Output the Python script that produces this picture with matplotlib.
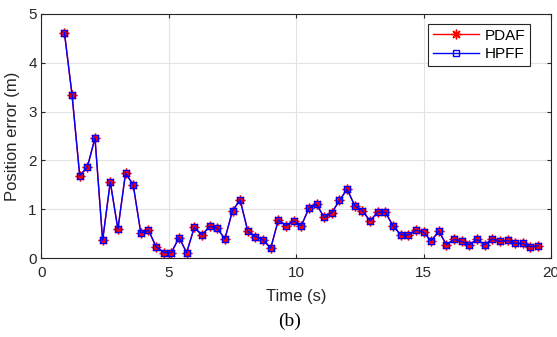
import numpy as np
import matplotlib.pyplot as plt

plt.rcParams['font.family'] = ['Liberation Sans', 'DejaVu Sans']

# sample clock of the tracker (s)
t_start = 0.9
t_step = 0.3

pdaf_err = [4.62, 3.34, 1.69, 1.86, 2.46, 0.36, 1.56, 0.59, 1.74, 1.50,
            0.51, 0.57, 0.23, 0.11, 0.11, 0.42, 0.11, 0.63, 0.47, 0.65,
            0.61, 0.39, 0.97, 1.19, 0.55, 0.44, 0.37, 0.20, 0.78, 0.66,
            0.76, 0.66, 1.02, 1.10, 0.83, 0.93, 1.18, 1.41, 1.07, 0.97,
            0.76, 0.94, 0.94, 0.66, 0.48, 0.47, 0.57, 0.53, 0.35, 0.55,
            0.27, 0.38, 0.34, 0.27, 0.38, 0.27, 0.39, 0.34, 0.36, 0.30,
            0.30, 0.23, 0.25]
hpff_err = list(pdaf_err)

time = t_start + t_step * np.arange(len(pdaf_err))

fig = plt.figure(figsize=(5.57, 3.37), dpi=100)
ax = fig.add_axes([0.0745, 0.2344, 0.9145, 0.7241])

# asterisk marker for PDAF, open squares for HPFF
ax.plot(time, pdaf_err, color='red', lw=1.0, marker=(8, 2, 0), ms=7,
        mew=1.0, label='PDAF')
ax.plot(time, hpff_err, color='blue', lw=1.0, marker='s', ms=5,
        mfc='none', mew=1.0, label='HPFF')

ax.set_xlim(0, 20)
ax.set_ylim(0, 5)
ax.set_xticks([0, 5, 10, 15, 20])
ax.set_yticks([0, 1, 2, 3, 4, 5])
ax.grid(True, color='#e3e3e3', lw=0.8)
ax.set_axisbelow(True)

dark = '#262626'
for s in ax.spines.values():
    s.set_color(dark)
    s.set_linewidth(0.8)
ax.tick_params(direction='in', length=3, width=0.8, colors=dark,
               labelsize=11, top=True, right=True)
ax.tick_params(axis='x', pad=6)

ax.set_xlabel('Time (s)', fontsize=12, color=dark, labelpad=6)
ax.set_ylabel('Position error (m)', fontsize=12, color=dark, labelpad=6)

leg = ax.legend(loc='upper right', bbox_to_anchor=(0.959, 0.958),
                borderaxespad=0, fancybox=False, framealpha=1,
                edgecolor=dark, fontsize=11, handlelength=3,
                handletextpad=0.4, borderpad=0.3, labelspacing=0.3)
leg.get_frame().set_linewidth(0.8)

fig.text(0.52, 0.045, '(b)', fontsize=14, family='Liberation Serif',
         ha='center', va='center')

fig.savefig('out.png', dpi=100)
